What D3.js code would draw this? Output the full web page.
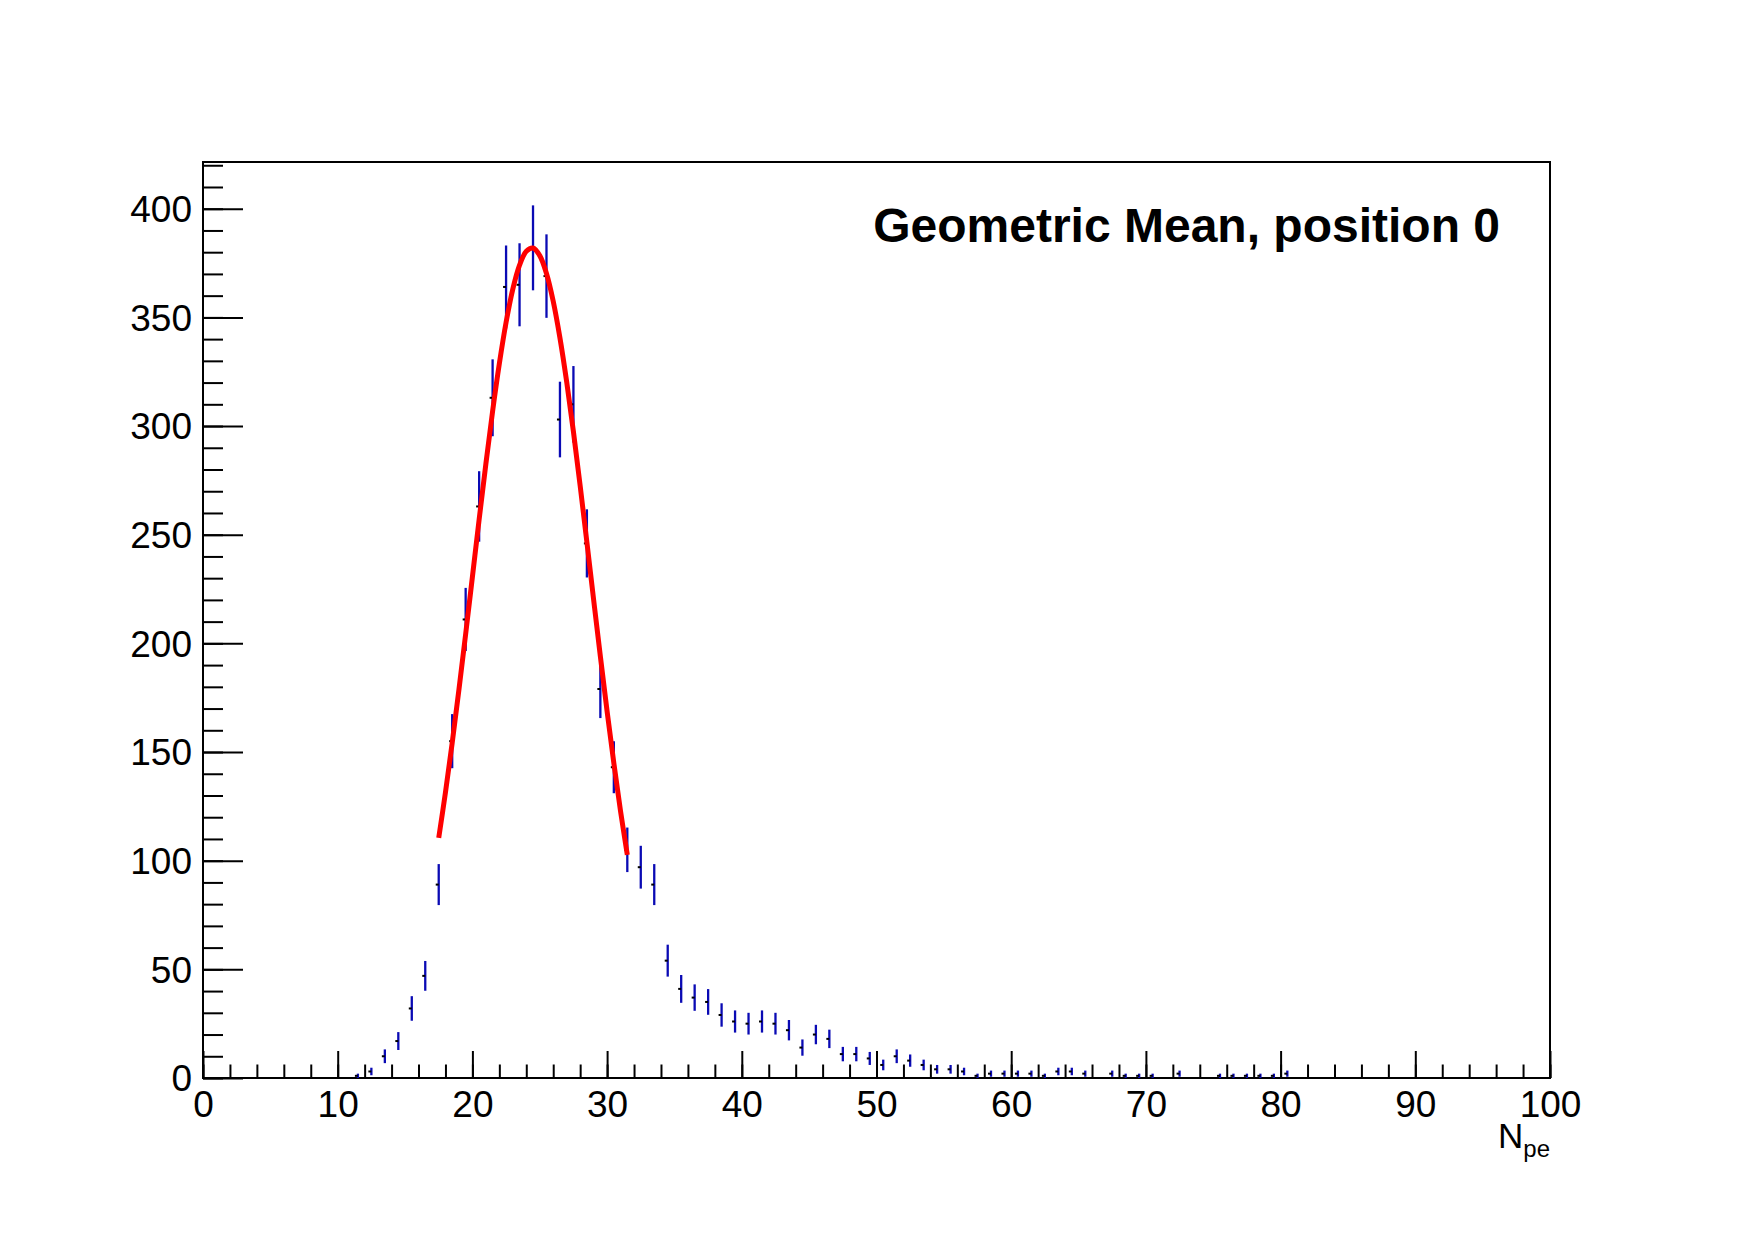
<!DOCTYPE html>
<meta charset="utf-8">
<title>Geometric Mean, position 0</title>
<style>
body { margin: 0; background: #fff; }
text { font-family: "Liberation Sans", Arial, Helvetica, sans-serif; fill: #000; }
.axis path { display: none; }
.axis line { stroke: #000; stroke-width: 2; }
.frame { fill: none; stroke: #000; stroke-width: 2; }
.err { stroke: #0a0ab4; stroke-width: 2.3; }
.fit { fill: none; stroke: #ff0000; stroke-width: 5; stroke-linejoin: round; }
</style>
<body>
<script src="https://d3js.org/d3.v7.min.js"></script>
<script>

// histogram: bin centres and counts (empty bins left out)
var binCenters = [11.5, 12.5, 13.5, 14.5, 15.5, 16.5, 17.5, 18.5, 19.5, 20.5,
                  21.5, 22.5, 23.5, 24.5, 25.5, 26.5, 27.5, 28.5, 29.5, 30.5,
                  31.5, 32.5, 33.5, 34.5, 35.5, 36.5, 37.5, 38.5, 39.5, 40.5,
                  41.5, 42.5, 43.5, 44.5, 45.5, 46.5, 47.5, 48.5, 49.5, 50.5,
                  51.5, 52.5, 53.5, 54.5, 55.5, 56.5, 57.5, 58.5, 59.5, 60.5,
                  61.5, 62.5, 63.5, 64.5, 65.5, 67.5, 68.5, 69.5, 70.5, 72.5,
                  75.5, 76.5, 77.5, 78.5, 79.5, 80.5];
var counts = [1, 3, 10, 17, 32, 47, 89, 155, 211, 263,
              313, 364, 365, 382, 369, 303, 310, 246, 179, 143,
              105, 97, 89, 54, 41, 37, 35, 29, 26, 25,
              26, 25, 22, 14, 20, 18, 11, 11, 9, 6,
              10, 8, 6, 4, 4, 3, 1, 2, 2, 2,
              2, 1, 3, 3, 2, 2, 1, 1, 1, 2,
              1, 1, 1, 1, 1, 2];

// gaussian fit curve
var fitX = [17.5, 18, 18.5, 19, 19.5, 20, 20.5, 21, 21.5, 22, 22.5, 23, 23.5, 24, 24.5,
            25, 25.5, 26, 26.5, 27, 27.5, 28, 28.5, 29, 29.5, 30, 30.5, 31, 31.5];
var fitY = [110.5, 131.4, 154.2, 178.7, 204.3, 230.6, 257.0, 282.6, 306.8, 328.7, 347.7, 363.0, 374.0, 380.4, 381.9,
            378.4, 370.2, 357.4, 340.5, 320.3, 297.4, 272.5, 246.5, 220.1, 194.0, 168.7, 144.9, 122.7, 102.7];

// axis ticks
var xMajor = [0, 10, 20, 30, 40, 50, 60, 70, 80, 90, 100];
var yMajor = [0, 50, 100, 150, 200, 250, 300, 350, 400];

var titleText = "Geometric Mean, position 0";

// frame of the pad
var padL = 203, padR = 1550, padT = 162, padB = 1078;

var x = d3.scaleLinear().domain([0, 100]).range([padL, padR]);
var y = d3.scaleLinear().domain([0, 421.5]).range([padB, padT]);

var svg = d3.select("body").append("svg")
    .attr("width", 1755)
    .attr("height", 1240);

svg.append("rect").attr("width", 1755).attr("height", 1240).attr("fill", "#fff");

// minor ticks
svg.append("g")
    .attr("class", "axis")
    .attr("transform", "translate(0," + padB + ")")
    .call(d3.axisBottom(x).tickValues(d3.range(0, 101, 2)).tickSizeInner(-13.5).tickSizeOuter(0).tickFormat(""));

svg.append("g")
    .attr("class", "axis")
    .attr("transform", "translate(" + padL + ",0)")
    .call(d3.axisLeft(y).tickValues(d3.range(0, 421, 10)).tickSizeInner(-20).tickSizeOuter(0).tickFormat(""));

// major ticks with labels
var xAxis = svg.append("g")
    .attr("class", "axis")
    .attr("transform", "translate(0," + padB + ")")
    .call(d3.axisBottom(x).tickValues(xMajor).tickSizeInner(-27).tickSizeOuter(0).tickPadding(13));
xAxis.selectAll("text").attr("font-size", 37).attr("dy", "0.71em");

var yAxis = svg.append("g")
    .attr("class", "axis")
    .attr("transform", "translate(" + padL + ",0)")
    .call(d3.axisLeft(y).tickValues(yMajor).tickSizeInner(-40).tickSizeOuter(0).tickPadding(11));
yAxis.selectAll("text").attr("font-size", 37).attr("dy", "0.35em");

// frame
svg.append("rect")
    .attr("class", "frame")
    .attr("x", padL)
    .attr("y", padT)
    .attr("width", padR - padL)
    .attr("height", padB - padT);

var data = binCenters.map(function(c, i) { return {x: c, v: counts[i]}; });

// error bars
svg.append("g").selectAll("line")
    .data(data)
    .enter().append("line")
    .attr("class", "err")
    .attr("x1", function(d) { return x(d.x); })
    .attr("x2", function(d) { return x(d.x); })
    .attr("y1", function(d) { return y(d.v - Math.sqrt(d.v)); })
    .attr("y2", function(d) { return y(d.v + Math.sqrt(d.v)); });

// markers (small dots)
svg.append("g").selectAll("rect")
    .data(data)
    .enter().append("rect")
    .attr("x", function(d) { return x(d.x) - 3; })
    .attr("y", function(d) { return y(d.v) - 1; })
    .attr("width", 3)
    .attr("height", 2)
    .attr("fill", "#000");

// fit
var fitLine = d3.line()
    .x(function(d) { return x(d[0]); })
    .y(function(d) { return y(d[1]); })
    .curve(d3.curveCatmullRom);

svg.append("path")
    .datum(fitX.map(function(v, i) { return [v, fitY[i]]; }))
    .attr("class", "fit")
    .attr("d", fitLine);

// title
svg.append("text")
    .attr("x", 1500)
    .attr("y", 242)
    .attr("text-anchor", "end")
    .attr("font-size", 48)
    .attr("font-weight", "bold")
    .text(titleText);

// x axis title
var xt = svg.append("text")
    .attr("x", padR)
    .attr("y", 1148)
    .attr("text-anchor", "end")
    .attr("font-size", 35);
xt.append("tspan").text("N");
xt.append("tspan").attr("font-size", 24).attr("dy", 9).text("pe");

</script>
</body>
